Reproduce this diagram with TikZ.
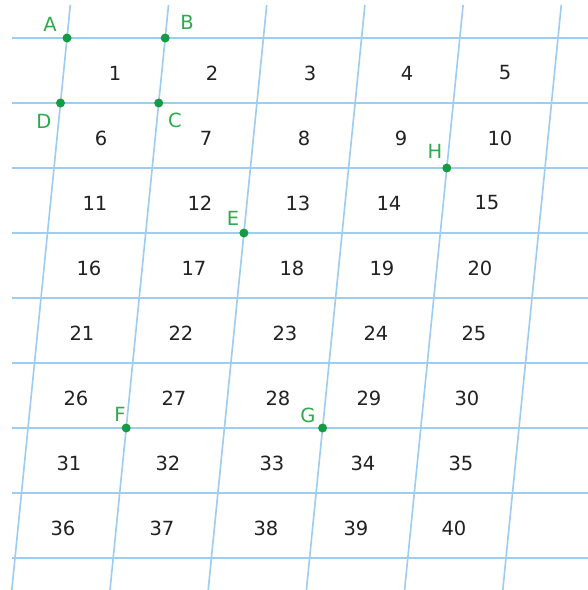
\documentclass[tikz,border=0pt]{standalone}
\usepackage{fontspec}
\setmainfont{DejaVu Sans}
\definecolor{gridblue}{HTML}{9DCDF0}
\definecolor{dotgreen}{HTML}{169A46}
\definecolor{labgreen}{HTML}{2EAA4E}
\definecolor{numgray}{HTML}{222222}
\begin{document}
\begin{tikzpicture}[x=1pt,y=-1pt,
  gridline/.style={gridblue,line width=1.6pt},
  num/.style={text=numgray,font=\fontsize{19.5}{21}\selectfont,inner sep=0pt},
  pt/.style={circle,fill=dotgreen,inner sep=0pt,minimum size=9pt},
  lab/.style={text=labgreen,font=\fontsize{19.5}{21}\selectfont,inner sep=0pt}]
\fill[white] (0,0) rectangle (588,590);
\useasboundingbox (0,0) rectangle (588,590);
% horizontal lines
\foreach \j in {0,...,8}{
  \draw[gridline] (12,{38+65*\j}) -- (588,{38+65*\j});
}
% slanted lines
\foreach \k in {0,...,5}{
  \draw[gridline] ({67+98.2*\k+3.3},5) -- ({67+98.2*\k-55.2},590);
}
% numbers
\foreach \r/\xa/\xb/\xc/\xd/\xe in {0/115/212/310/407/505,1/101/206/304/401/500,2/95/200/298/389/487,3/89/194/292/382/480,4/82/181/285/376/474,5/76/174/278/369/467,6/69/168/272/363/461,7/63/162/266/356/454}{
  \pgfmathtruncatemacro{\na}{5*\r+1}
  \pgfmathtruncatemacro{\nb}{5*\r+2}
  \pgfmathtruncatemacro{\nc}{5*\r+3}
  \pgfmathtruncatemacro{\nd}{5*\r+4}
  \pgfmathtruncatemacro{\ne}{5*\r+5}
  \node[num] (n\na) at (\xa,{73+65*\r}) {\na};
  \node[num] (n\nb) at (\xb,{73+65*\r}) {\nb};
  \node[num] (n\nc) at (\xc,{73+65*\r}) {\nc};
  \node[num] (n\nd) at (\xd,{73+65*\r}) {\nd};
  \node[num] (n\ne) at (\xe,{73+65*\r}) {\ne};
}
% points
\node[pt] (A) at (67,38) {};
\node[pt] (B) at (165.2,38) {};
\node[pt] (C) at (158.7,103) {};
\node[pt] (D) at (60.5,103) {};
\node[pt] (E) at (243.9,233) {};
\node[pt] (F) at (126.2,428) {};
\node[pt] (G) at (322.6,428) {};
\node[pt] (H) at (446.8,168) {};
\node[lab] (lA) at (50,24) {A};
\node[lab] (lB) at (187,22) {B};
\node[lab] (lC) at (175,120) {C};
\node[lab] (lD) at (44,121) {D};
\node[lab] (lE) at (233,218) {E};
\node[lab] (lF) at (120,414) {F};
\node[lab] (lG) at (308,415) {G};
\node[lab] (lH) at (435,151) {H};
\end{tikzpicture}
\end{document}
